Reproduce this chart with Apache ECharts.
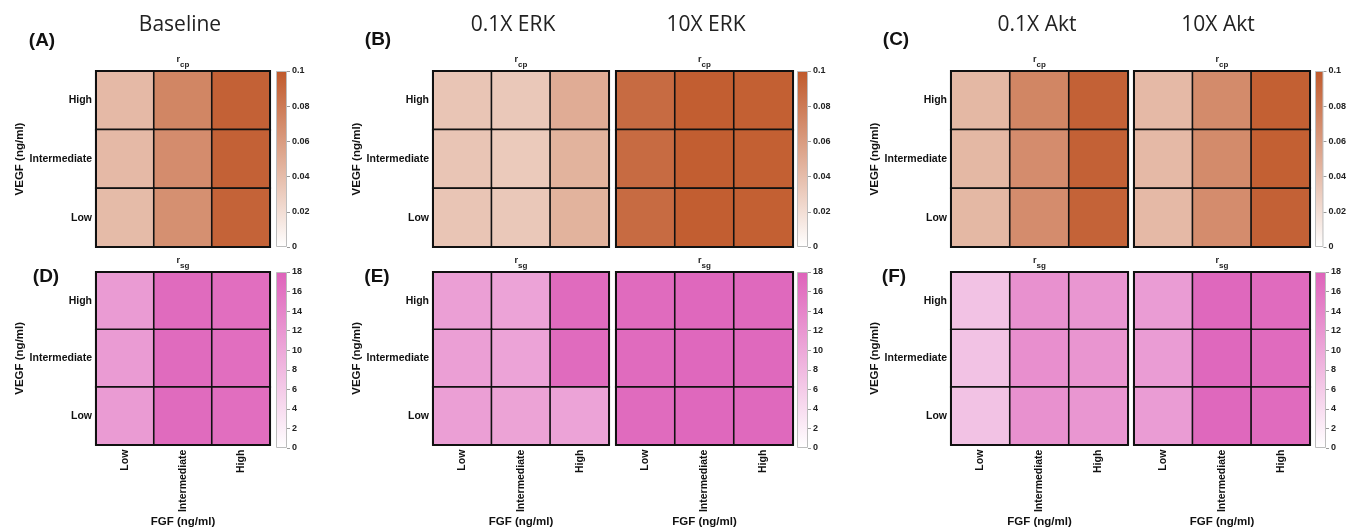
<!DOCTYPE html>
<html>
<head>
<meta charset="utf-8">
<script src="https://cdn.jsdelivr.net/npm/echarts@6/dist/echarts.min.js"></script>
<style>
html,body{margin:0;padding:0;background:#fff;}
#c{width:1349px;height:529px;}
</style>
</head>
<body>
<div id="c"></div>
<script>
// ---------- data ----------
const fgfLevels = ['Low', 'Intermediate', 'High'];   // x categories
const vegfLevels = ['Low', 'Intermediate', 'High'];  // y categories (bottom -> top)

// rows listed top to bottom: VEGF High, Intermediate, Low ; columns: FGF Low, Intermediate, High
const rcpBaseline = [[0.042, 0.073, 0.095], [0.042, 0.069, 0.095], [0.041, 0.067, 0.094]];
const rcpErkLow   = [[0.035, 0.033, 0.050], [0.035, 0.032, 0.046], [0.035, 0.033, 0.046]];
const rcpErkHigh  = [[0.089, 0.097, 0.096], [0.089, 0.097, 0.096], [0.089, 0.097, 0.096]];
const rcpAktLow   = [[0.043, 0.073, 0.095], [0.043, 0.069, 0.095], [0.043, 0.069, 0.094]];
const rcpAktHigh  = [[0.042, 0.070, 0.096], [0.042, 0.070, 0.096], [0.042, 0.069, 0.095]];

const rsgBaseline = [[11.5, 17.0, 16.6], [11.5, 17.0, 16.6], [11.5, 17.0, 16.6]];
const rsgErkLow   = [[11.0, 10.5, 17.0], [11.0, 10.5, 17.0], [11.0, 10.6, 10.5]];
const rsgErkHigh  = [[17.0, 17.3, 17.2], [17.0, 17.3, 17.2], [17.0, 17.3, 17.2]];
const rsgAktLow   = [[7.0, 12.6, 12.0], [7.0, 12.8, 12.2], [7.0, 12.6, 12.0]];
const rsgAktHigh  = [[11.3, 17.3, 17.0], [11.3, 17.3, 17.0], [11.3, 17.3, 17.0]];

const rcpRange = [0, 0.1];
const rcpTickStep = 0.02;
const rsgRange = [0, 18];
const rsgTickStep = 2;

const panelTitles = ['Baseline', '0.1X ERK', '10X ERK', '0.1X Akt', '10X Akt'];
const panelLetters = ['(A)', '(B)', '(C)', '(D)', '(E)', '(F)'];

// ---------- styling / layout ----------
const RCP_MAX = '#C0592B';
const RSG_MAX = '#DE62BA';
const LBL = 'Liberation Sans, Arial, sans-serif';
const TITLEF = '"Open Sans", sans-serif';

const heatmaps = [
  {data: rcpBaseline, kind: 'rcp', left: 96,  top: 71,  width: 174, height: 176, ylab: true,  xlab: false},
  {data: rcpErkLow,   kind: 'rcp', left: 433, top: 71,  width: 176, height: 176, ylab: true,  xlab: false},
  {data: rcpErkHigh,  kind: 'rcp', left: 616, top: 71,  width: 177, height: 176, ylab: false, xlab: false},
  {data: rcpAktLow,   kind: 'rcp', left: 951, top: 71,  width: 177, height: 176, ylab: true,  xlab: false},
  {data: rcpAktHigh,  kind: 'rcp', left: 1134, top: 71, width: 176, height: 176, ylab: false, xlab: false},
  {data: rsgBaseline, kind: 'rsg', left: 96,  top: 272, width: 174, height: 176, ylab: true,  xlab: true},
  {data: rsgErkLow,   kind: 'rsg', left: 433, top: 272, width: 176, height: 176, ylab: true,  xlab: true},
  {data: rsgErkHigh,  kind: 'rsg', left: 616, top: 272, width: 177, height: 176, ylab: false, xlab: true},
  {data: rsgAktLow,   kind: 'rsg', left: 951, top: 272, width: 177, height: 176, ylab: true,  xlab: true},
  {data: rsgAktHigh,  kind: 'rsg', left: 1134, top: 272, width: 176, height: 176, ylab: false, xlab: true}
];
const colorbars = [
  {kind: 'rcp', left: 276, top: 71, height: 176},
  {kind: 'rcp', left: 797, top: 71, height: 176},
  {kind: 'rcp', left: 1315, top: 71, height: 176},
  {kind: 'rsg', left: 276, top: 272, height: 176},
  {kind: 'rsg', left: 797, top: 272, height: 176},
  {kind: 'rsg', left: 1315, top: 272, height: 176}
];

const grids = [], xAxes = [], yAxes = [], series = [];
const rcpSeries = [], rsgSeries = [];
const frameLine = {show: true, lineStyle: {color: '#111', width: 2}};

heatmaps.forEach(function (p) {
  const gi = grids.length;
  grids.push({left: p.left, top: p.top, width: p.width, height: p.height});
  const xi = xAxes.length;
  xAxes.push({
    type: 'category', gridIndex: gi, data: fgfLevels, position: 'bottom', z: 5,
    axisLine: frameLine, axisTick: {show: false}, splitLine: {show: false},
    axisLabel: {show: p.xlab, rotate: 90, margin: 5, color: '#111', fontFamily: LBL, fontWeight: 'bold', fontSize: 10.5},
    name: p.xlab ? 'FGF (ng/ml)' : '', nameLocation: 'middle', nameGap: 67,
    nameTextStyle: {color: '#111', fontFamily: LBL, fontWeight: 'bold', fontSize: 11.5}
  });
  xAxes.push({
    type: 'category', gridIndex: gi, data: fgfLevels, position: 'top', z: 5,
    axisLine: frameLine, axisTick: {show: false}, axisLabel: {show: false}, splitLine: {show: false},
    name: p.kind === 'rcp' ? '{r|r}{s|cp}' : '{r|r}{s|sg}', nameLocation: 'middle', nameGap: 2,
    nameTextStyle: {rich: {
      r: {fontFamily: LBL, fontWeight: 'bold', fontSize: 9, color: '#222', verticalAlign: 'top', lineHeight: 14},
      s: {fontFamily: LBL, fontWeight: 'bold', fontSize: 8, color: '#222', verticalAlign: 'bottom', lineHeight: 14}
    }}
  });
  const yi = yAxes.length;
  yAxes.push({
    type: 'category', gridIndex: gi, data: vegfLevels, position: 'left', z: 5,
    axisLine: frameLine, axisTick: {show: false}, splitLine: {show: false},
    axisLabel: {show: p.ylab, margin: 4, color: '#111', fontFamily: LBL, fontWeight: 'bold', fontSize: 10.5},
    name: p.ylab ? 'VEGF (ng/ml)' : '', nameLocation: 'middle', nameGap: 64,
    nameTextStyle: {color: '#111', fontFamily: LBL, fontWeight: 'bold', fontSize: 11.5}
  });
  yAxes.push({
    type: 'category', gridIndex: gi, data: vegfLevels, position: 'right', z: 5,
    axisLine: frameLine, axisTick: {show: false}, axisLabel: {show: false}, splitLine: {show: false}
  });
  const cells = [];
  p.data.forEach(function (row, r) {
    row.forEach(function (v, c) { cells.push([c, p.data.length - 1 - r, v]); });
  });
  (p.kind === 'rcp' ? rcpSeries : rsgSeries).push(series.length);
  series.push({
    type: 'heatmap', xAxisIndex: xi, yAxisIndex: yi, data: cells,
    itemStyle: {borderColor: '#111', borderWidth: 1.6},
    emphasis: {disabled: true}, silent: true
  });
});

colorbars.forEach(function (cb) {
  const gi = grids.length;
  const range = cb.kind === 'rcp' ? rcpRange : rsgRange;
  const step = cb.kind === 'rcp' ? rcpTickStep : rsgTickStep;
  const top = cb.kind === 'rcp' ? RCP_MAX : RSG_MAX;
  grids.push({left: cb.left, top: cb.top, width: 11, height: cb.height});
  const xi = xAxes.length;
  xAxes.push({type: 'category', gridIndex: gi, data: [cb.kind], show: false});
  const yi = yAxes.length;
  yAxes.push({
    type: 'value', gridIndex: gi, min: range[0], max: range[1], interval: step, position: 'right',
    axisLine: {show: false}, splitLine: {show: false},
    axisTick: {show: true, length: 3, lineStyle: {color: '#999'}},
    axisLabel: {margin: 5, color: '#222', fontFamily: LBL, fontWeight: 'bold', fontSize: 9}
  });
  series.push({
    type: 'bar', xAxisIndex: xi, yAxisIndex: yi, data: [range[1]], barWidth: '100%', silent: true,
    itemStyle: {
      borderColor: '#bdbdbd', borderWidth: 1,
      color: {type: 'linear', x: 0, y: 0, x2: 0, y2: 1, colorStops: [{offset: 0, color: top}, {offset: 1, color: '#ffffff'}]}
    }
  });
});

// titles and panel letters
const titleX = [180, 513, 706, 1037, 1218];
const letterPos = [[42, 41], [378, 40], [896, 40], [46, 277], [377, 277], [894, 277]];
const graphics = [];
panelTitles.forEach(function (t, i) {
  graphics.push({type: 'text', x: titleX[i], y: 25, style: {text: t, textAlign: 'center', textVerticalAlign: 'middle', font: '21px ' + TITLEF, fill: '#222'}});
});
panelLetters.forEach(function (t, i) {
  graphics.push({type: 'text', x: letterPos[i][0], y: letterPos[i][1], style: {text: t, textAlign: 'center', textVerticalAlign: 'middle', font: 'bold 19px ' + LBL, fill: '#111'}});
});

const chart = echarts.init(document.getElementById('c'), null, {renderer: 'canvas', width: 1349, height: 529});
chart.setOption({
  animation: false,
  backgroundColor: '#ffffff',
  grid: grids,
  xAxis: xAxes,
  yAxis: yAxes,
  visualMap: [
    {type: 'continuous', show: false, min: rcpRange[0], max: rcpRange[1], seriesIndex: rcpSeries, inRange: {color: ['#ffffff', RCP_MAX]}},
    {type: 'continuous', show: false, min: rsgRange[0], max: rsgRange[1], seriesIndex: rsgSeries, inRange: {color: ['#ffffff', RSG_MAX]}}
  ],
  graphic: graphics,
  series: series
});
</script>
</body>
</html>
